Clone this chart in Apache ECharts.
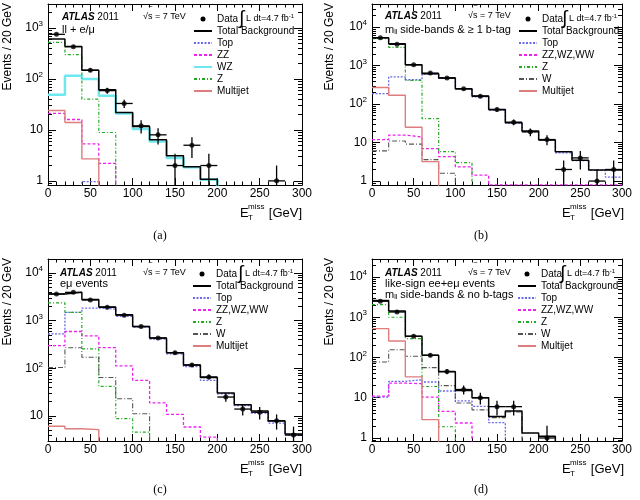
<!DOCTYPE html>
<html style="height: 100%">
<head>
    <meta charset="utf-8">
    <title>ETmiss control regions</title>
    <script src="https://cdn.jsdelivr.net/npm/echarts@6/dist/echarts.min.js"></script>
</head>
<body style="height: 100%; margin: 0">
<div id="container" style="width: 640px; height: 500px"></div>
<script type="text/javascript">
// bin edges / centres (20 GeV bins)
var edges = [0, 20, 40, 60, 80, 100, 120, 140, 160, 180, 200, 220, 240, 260, 280, 300];
var centers = [10, 30, 50, 70, 90, 110, 130, 150, 170, 190, 210, 230, 250, 270, 290];
var FLOOR = 0.01; // empty bins are drawn below the axis

// (a) ll + e/mu
var aTotal    = [605, 435, 148, 61, 22, 11.7, 6.4, 3.1, 1.9, 1.08, 0, 0, 0, 0, 0];
var aTop      = [0, 0, 0.97, 0, 0, 0, 0, 0, 0, 0, 0, 0, 0, 0, 0];
var aZZ       = [21, 16, 5.3, 2.2, 0, 0, 0, 0, 0, 0, 0, 0, 0, 0, 0];
var aWZ       = [49, 116, 100, 47, 21, 10.4, 5.9, 2.8, 1.85, 1.05, 0, 0, 0, 0, 0];
var aZ        = [520, 300, 40, 8.9, 0, 0, 0, 0, 0, 0, 0, 0, 0, 0, 0];
var aMultijet = [24, 14, 2.7, 0, 0, 0, 0, 0, 0, 0, 0, 0, 0, 0, 0];
var aData     = [750, 430, 148, 59, 33, 12, 8, 2, 5, 2, 0, 0, 0, 1, 0];
var aErr      = [27, 21, 12, 8, 6, 3.5, 2.8, 1.4, 2.2, 1.4, 0, 0, 0, 1, 0];

// (b) mll side-bands & >= 1 b-tag
var bTotal    = [5300, 3700, 1050, 620, 480, 250, 163, 72, 33, 20, 11.6, 5.8, 3.5, 1.93, 1.93];
var bTop      = [187, 510, 430, 600, 470, 250, 155, 69, 32, 19, 11.5, 5.4, 3.4, 1.9, 1.27];
var bDiboson  = [12, 15.6, 14, 7, 4.3, 2.35, 1.43, 0.8, 0.8, 0.8, 0.8, 0.8, 0.8, 0.8, 0.8];
var bZ        = [5000, 3000, 415, 42, 5.8, 3.0, 0, 0, 0, 0, 0, 0, 0, 0, 0];
var bW        = [6.1, 11, 9.1, 3.6, 1.6, 0, 0, 0, 0, 0, 0, 0, 0, 0, 0];
var bMultijet = [270, 170, 25, 3.2, 0, 0, 0, 0, 0, 0, 0, 0, 0, 0, 0];
var bData     = [5300, 3600, 1050, 640, 480, 250, 160, 72, 34, 19, 12, 2, 4, 1, 2];
var bErr      = [73, 60, 32, 25, 22, 16, 13, 8.5, 5.8, 4.4, 3.5, 1.4, 2, 1, 1.4];

// (c) e-mu events
var cTotal    = [3600, 3900, 2750, 1920, 1320, 750, 430, 213, 117, 64, 30.5, 17.3, 12.7, 7.9, 4.2];
var cTop      = [525, 1480, 1830, 1740, 1220, 730, 410, 200, 108, 56, 29, 16.5, 11.5, 7.1, 4.0];
var cDiboson  = [300, 590, 480, 270, 112, 56, 18.8, 10.8, 5.9, 3.6, 0, 0, 0, 0, 0];
var cZ        = [2340, 1480, 255, 42, 8.8, 4.6, 0, 0, 0, 0, 0, 0, 0, 0, 0];
var cW        = [104, 270, 170, 64, 23, 11.2, 0, 0, 0, 0, 0, 0, 0, 0, 0];
var cMultijet = [6.1, 5.4, 5.2, 0, 0, 0, 0, 0, 0, 0, 0, 0, 0, 0, 0];
var cData     = [3600, 3900, 2700, 1900, 1300, 750, 430, 213, 117, 66, 25, 14, 12, 8, 4];
var cErr      = [60, 62, 52, 44, 36, 27, 21, 15, 11, 8, 5, 3.7, 3.5, 2.8, 2];

// (d) like-sign ee+e-mu, side-bands & no b-tags
var dTotal    = [2600, 1420, 335, 113, 44, 15.2, 10, 3.4, 4.7, 1.33, 1.1, 0, 0, 0, 0];
var dTop      = [10.4, 25.5, 28, 24.6, 14.7, 8.3, 6.1, 2.4, 0, 0, 0, 0, 0, 0, 0];
var dDiboson  = [11, 23, 22.3, 10.4, 4.6, 2.35, 0, 0, 0, 0, 0, 0, 0, 0, 0];
var dZ        = [2050, 1000, 294, 19, 1.9, 0, 0, 0, 0, 0, 0, 0, 0, 0, 0];
var dW        = [77, 156, 107, 56, 20, 7.4, 5.0, 3.2, 4.4, 0, 0, 0, 0, 0, 0];
var dMultijet = [520, 257, 33, 2.85, 0, 0, 0, 0, 0, 0, 0, 0, 0, 0, 0];
var dData     = [2500, 1350, 335, 113, 45, 16, 10, 6, 6, 0, 1, 0, 0, 0, 0];
var dErr      = [50, 37, 18, 11, 6.7, 4, 3.2, 2.4, 2.4, 0, 1, 0, 0, 0, 0];

var FONT = 'Liberation Sans';

var styles = {
    'Total Background': {color: '#000000', width: 1.5, type: 'solid'},
    'Top':              {color: '#6a6aee', width: 1.3, type: [2, 1.5]},
    'ZZ':               {color: '#ee22ee', width: 1.3, type: [3, 2]},
    'ZZ,WZ,WW':         {color: '#ee22ee', width: 1.3, type: [3, 2]},
    'WZ':               {color: '#6ee8ee', width: 2.5, type: 'solid'},
    'Z':                {color: '#22aa22', width: 1.2, type: [3, 2, 1, 2]},
    'W':                {color: '#555555', width: 1.1, type: [5, 2, 1, 2]},
    'Multijet':         {color: '#dd7d7d', width: 1.4, type: 'solid'}
};

function histData(vals) {
    var out = [];
    for (var i = 0; i < edges.length; i++) {
        var v = vals[Math.min(i, vals.length - 1)];
        out.push([edges[i], v > 0 ? v : FLOOR]);
    }
    return out;
}

function histSeries(name, vals, p) {
    var s = styles[name];
    return {
        name: name, type: 'line', step: 'end', symbol: 'none',
        xAxisIndex: 2 * p, yAxisIndex: 2 * p, clip: true,
        lineStyle: {color: s.color, width: s.width, type: s.type},
        itemStyle: {color: s.color},
        data: histData(vals)
    };
}

function pointData(vals, errs) {
    var out = [];
    for (var i = 0; i < vals.length; i++) {
        if (vals[i] > 0) out.push([centers[i], vals[i], errs[i]]);
    }
    return out;
}

function dataSeries(vals, errs, p) {
    var pts = pointData(vals, errs);
    return [{
        name: 'Data', type: 'scatter', symbol: 'circle', symbolSize: 5,
        xAxisIndex: 2 * p, yAxisIndex: 2 * p, z: 5,
        itemStyle: {color: '#000'},
        data: pts
    }, {
        name: 'errors', type: 'custom',
        xAxisIndex: 2 * p, yAxisIndex: 2 * p, z: 4,
        renderItem: function (params, api) {
            var x = api.value(0), y = api.value(1), e = api.value(2);
            var cs = params.coordSys;
            var bottom = cs.y + cs.height;
            var lo = y - e > 0 ? api.coord([x, y - e])[1] : bottom;
            var hi = api.coord([x, y + e])[1];
            var l = api.coord([x - 10, y]), r = api.coord([x + 10, y]);
            var c = api.coord([x, y]);
            return {
                type: 'group',
                children: [
                    {type: 'line', shape: {x1: l[0], y1: l[1], x2: r[0], y2: r[1]},
                        style: {stroke: '#000', lineWidth: 1.3}},
                    {type: 'line', shape: {x1: c[0], y1: Math.max(hi, cs.y), x2: c[0], y2: Math.min(lo, bottom)},
                        style: {stroke: '#000', lineWidth: 1.3}}
                ]
            };
        },
        data: pts
    }];
}

function yLabel(value) {
    var lg = Math.log(value) / Math.LN10;
    var e = Math.round(lg);
    if (Math.abs(lg - e) > 1e-6) return '';
    if (e === 0) return '1';
    if (e === 1) return '10';
    return '10{sup|' + e + '}';
}

var grids = [
    {left: 48, top: 4, width: 254, height: 181},
    {left: 372, top: 4, width: 250, height: 181},
    {left: 48, top: 259, width: 254, height: 182},
    {left: 372, top: 259, width: 250, height: 182}
];
var yRanges = [[0.83, 2950], [0.79, 40000], [3, 19500], [0.84, 28000]];

var xAxes = [], yAxes = [];
for (var p = 0; p < 4; p++) {
    ['bottom', 'top'].forEach(function (pos) {
        xAxes.push({
            type: 'value', gridIndex: p, position: pos, min: 0, max: 300, interval: 50,
            axisLine: {show: true, onZero: false, lineStyle: {color: '#000', width: 1}},
            axisTick: {show: true, inside: true, length: 7, lineStyle: {color: '#000'}},
            minorTick: {show: true, splitNumber: 5, length: 3.5, lineStyle: {color: '#000'}},
            splitLine: {show: false},
            axisLabel: {show: pos === 'bottom', margin: 3, color: '#000', fontFamily: FONT, fontSize: 12}
        });
    });
    ['left', 'right'].forEach(function (pos) {
        yAxes.push({
            type: 'log', gridIndex: p, position: pos, min: yRanges[p][0], max: yRanges[p][1],
            axisLine: {show: true, onZero: false, lineStyle: {color: '#000', width: 1}},
            axisTick: {show: true, inside: true, length: 8, lineStyle: {color: '#000'}},
            minorTick: {show: true, splitNumber: 9, length: 4, lineStyle: {color: '#000'}},
            splitLine: {show: false},
            axisLabel: {
                show: pos === 'left', margin: 5, color: '#000', fontFamily: FONT, fontSize: 12,
                showMinLabel: false, showMaxLabel: false,
                formatter: yLabel,
                rich: {sup: {fontSize: 8, fontFamily: FONT, color: '#000', padding: [0, 0, 8, 0]}}
            }
        });
    });
}

var series = [];
function panel(p, list, total, data, errs) {
    list.forEach(function (it) { series.push(histSeries(it[0], it[1], p)); });
    series.push(histSeries('Total Background', total, p));
    series = series.concat(dataSeries(data, errs, p));
}
panel(0, [['Top', aTop], ['ZZ', aZZ], ['WZ', aWZ], ['Z', aZ], ['Multijet', aMultijet]], aTotal, aData, aErr);
panel(1, [['Top', bTop], ['ZZ,WZ,WW', bDiboson], ['Z', bZ], ['W', bW], ['Multijet', bMultijet]], bTotal, bData, bErr);
panel(2, [['Top', cTop], ['ZZ,WZ,WW', cDiboson], ['Z', cZ], ['W', cW], ['Multijet', cMultijet]], cTotal, cData, cErr);
panel(3, [['Top', dTop], ['ZZ,WZ,WW', dDiboson], ['Z', dZ], ['W', dW], ['Multijet', dMultijet]], dTotal, dData, dErr);

function legend(left, top, names) {
    return {
        orient: 'vertical', left: left, top: top, itemWidth: 18, itemHeight: 5, itemGap: 2,
        selectedMode: false, padding: 0,
        itemStyle: {opacity: 0},
        textStyle: {fontFamily: FONT, fontSize: 10, lineHeight: 10, color: '#000'},
        data: [{name: 'Data', icon: 'circle', itemStyle: {opacity: 1, color: '#000'}}].concat(names)
    };
}
var legends = [
    legend(193, 14, ['Total Background', 'Top', 'ZZ', 'WZ', 'Z', 'Multijet']),
    legend(518, 14, ['Total Background', 'Top', 'ZZ,WZ,WW', 'Z', 'W', 'Multijet']),
    legend(192, 269, ['Total Background', 'Top', 'ZZ,WZ,WW', 'Z', 'W', 'Multijet']),
    legend(517, 269, ['Total Background', 'Top', 'ZZ,WZ,WW', 'Z', 'W', 'Multijet'])
];

function txt(x, y, text, size, extra) {
    var st = {text: text, font: size + 'px ' + FONT, fill: '#000', verticalAlign: 'middle'};
    for (var k in extra) st[k] = extra[k];
    return {type: 'text', x: x, y: y, style: st, z: 20};
}
var rich = {
    b: {fontFamily: FONT, fontSize: 10, fontWeight: 'bold', fontStyle: 'italic'},
    n: {fontFamily: FONT, fontSize: 10},
    sup: {fontFamily: FONT, fontSize: 6, padding: [0, 0, 6, 0]},
    sub: {fontFamily: FONT, fontSize: 7, padding: [5, 0, 0, 0]}
};
function header(x, y, sx, ix, iy) {
    return [
        txt(x, y, '{b|ATLAS}{n| 2011}', 10, {rich: rich}),
        txt(sx, y, '\u221As = 7 TeV', 9),
        txt(sx + 6, y - 5.5, '\u203E', 9),
        txt(ix, iy, '\u222B', 19),
        txt(ix + 7, iy, 'L dt=4.7 fb{sup|-1}', 9, {rich: rich})
    ];
}
function xTitle(x, y) {
    return [
        txt(x, y, 'E', 13),
        txt(x + 8, y - 6, 'miss', 8),
        txt(x + 8, y + 5, 'T', 8),
        txt(x + 62, y, '[GeV]', 13, {align: 'right'})
    ];
}
function yTitle(x, y) {
    return txt(x, y, 'Events / 20 GeV', 12, {align: 'right'});
}

var graphics = [];
graphics = graphics.concat(
    header(62, 17, 143, 239, 19),
    [txt(62, 30, 'll + e/\u03BC', 11)],
    header(385, 16, 468, 562, 19),
    [txt(385, 30, 'm{sub|ll}{s| side-bands & \u2265 1 b-tag}', 11,
        {rich: {sub: rich.sub, s: {fontFamily: FONT, fontSize: 11}}})],
    header(60, 273, 143, 238, 274),
    [txt(60, 284, 'e\u03BC events', 11)],
    header(385, 273, 468, 560, 274),
    [txt(385, 284, 'like-sign ee+e\u03BC events', 11),
     txt(385, 295, 'm{sub|ll}{s| side-bands & no b-tags}', 11,
        {rich: {sub: rich.sub, s: {fontFamily: FONT, fontSize: 11}}})],
    xTitle(240, 213), xTitle(562, 213), xTitle(240, 469), xTitle(562, 469)
);
[[8, 3], [330, 3], [8, 258], [330, 258]].forEach(function (c) {
    var t = yTitle(c[0], c[1]);
    t.rotation = Math.PI / 2;
    graphics.push(t);
});
[['(a)', 160, 236], ['(b)', 481, 236], ['(c)', 160, 490], ['(d)', 481, 490]].forEach(function (c) {
    graphics.push({type: 'text', x: c[1], y: c[2], z: 20,
        style: {text: c[0], font: '12px "Liberation Serif"', fill: '#000', align: 'center', verticalAlign: 'middle'}});
});

var myChart = echarts.init(document.getElementById('container'));
var option = {
    backgroundColor: '#ffffff',
    animation: false,
    grid: grids,
    xAxis: xAxes,
    yAxis: yAxes,
    legend: legends,
    graphic: graphics,
    series: series
};
myChart.setOption(option);
</script>
</body>
</html>
